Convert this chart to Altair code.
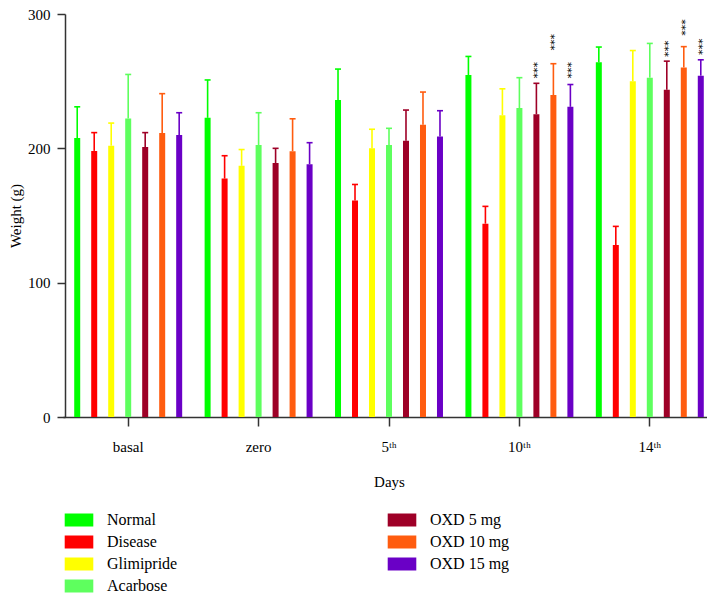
import altair as alt
import pandas as pd

days = ["basal", "zero", "5ᵗʰ", "10ᵗʰ", "14ᵗʰ"]
groups = ["Normal", "Disease", "Glimipride", "Acarbose", "OXD 5 mg", "OXD 10 mg", "OXD 15 mg"]
colors = ["#00FF00", "#FF0000", "#FFFF00", "#5EFF5E", "#9E0027", "#FF5C0F", "#6A00C6"]

means = {
    "Normal":     [207.6, 222.7, 236.0, 254.6, 264.0],
    "Disease":    [198.1, 177.5, 161.2, 143.9, 128.1],
    "Glimipride": [202.0, 187.0, 200.0, 224.7, 249.9],
    "Acarbose":   [222.2, 202.5, 202.5, 230.0, 252.6],
    "OXD 5 mg":   [201.0, 189.1, 205.7, 225.4, 243.6],
    "OXD 10 mg":  [211.5, 197.9, 217.6, 239.7, 260.2],
    "OXD 15 mg":  [210.0, 188.2, 208.8, 230.9, 254.1],
}
errors = {
    "Normal":     [23.3, 28.2, 23.0, 13.8, 11.4],
    "Disease":    [13.6, 17.0, 11.9, 12.9, 13.8],
    "Glimipride": [16.8, 12.1, 14.2, 19.6, 22.9],
    "Acarbose":   [32.8, 24.0, 12.4, 22.6, 25.5],
    "OXD 5 mg":   [10.7, 10.9, 22.8, 23.0, 21.3],
    "OXD 10 mg":  [29.2, 24.1, 24.3, 23.3, 15.5],
    "OXD 15 mg":  [16.5, 16.0, 19.2, 16.6, 11.8],
}

star_days = ["10ᵗʰ", "10ᵗʰ", "10ᵗʰ", "14ᵗʰ", "14ᵗʰ", "14ᵗʰ"]
star_groups = ["OXD 5 mg", "OXD 10 mg", "OXD 15 mg", "OXD 5 mg", "OXD 10 mg", "OXD 15 mg"]
star_levels = [251.9, 272.8, 251.9, 267.9, 283.9, 269.4]
star_labels = ["***"] * 6

rows = []
for g in groups:
    for i, d in enumerate(days):
        m = means[g][i]
        rows.append({"day": d, "group": g, "mean": m, "upper": m + errors[g][i]})
df = pd.DataFrame(rows)
stars_df = pd.DataFrame({"day": star_days, "group": star_groups,
                         "level": star_levels, "label": star_labels})

FONT = "Liberation Serif"

x_enc = alt.X(
    "day:N", sort=days,
    scale=alt.Scale(domain=days, paddingInner=0, paddingOuter=0, range=[0, 652]),
    axis=alt.Axis(title="Days", labelAngle=0, tickSize=9, labelPadding=13,
                  titlePadding=20, titleX=326),
)
xo_enc = alt.XOffset(
    "group:N", sort=groups,
    scale=alt.Scale(domain=groups, paddingInner=0.647, paddingOuter=0.66),
)
y_scale = alt.Scale(domain=[0, 300], nice=False)
y_axis = alt.Axis(title="Weight (g)", values=[0, 100, 200, 300], tickSize=8,
                  labelPadding=7, titlePadding=4, offset=-2)
color_scale = alt.Scale(domain=groups, range=colors)

rect_sym = "M-2.2,-1H2.2V1H-2.2Z"

def legend(values, lx):
    return alt.Legend(
        title=None, values=values, orient="none", legendX=lx, legendY=498,
        direction="vertical", padding=0, symbolType=rect_sym, symbolSize=169,
        symbolStrokeWidth=0, symbolOpacity=1, labelFont=FONT, labelFontSize=16,
        labelColor="#000000", labelOffset=20, rowPadding=6,
    )

base = alt.Chart(df).encode(x=x_enc, xOffset=xo_enc)

bars1 = base.transform_filter(
    alt.FieldOneOfPredicate(field="group", oneOf=groups[:4])
).mark_bar().encode(
    y=alt.Y("mean:Q", scale=y_scale, axis=y_axis),
    color=alt.Color("group:N", scale=color_scale, legend=legend(groups[:4], 8)),
)
bars2 = base.transform_filter(
    alt.FieldOneOfPredicate(field="group", oneOf=groups[4:])
).mark_bar().encode(
    y=alt.Y("mean:Q", scale=y_scale, axis=y_axis),
    color=alt.Color("group:N", scale=color_scale, legend=legend(groups[4:], 331)),
)
err = base.mark_rule(strokeWidth=1.6).encode(
    y=alt.Y("mean:Q", scale=y_scale, axis=y_axis),
    y2="upper:Q",
    color=alt.Color("group:N", scale=color_scale, legend=None),
)
caps = base.mark_tick(thickness=1.6, size=6, opacity=1).encode(
    y=alt.Y("upper:Q", scale=y_scale, axis=y_axis),
    color=alt.Color("group:N", scale=color_scale, legend=None),
)

stars = alt.Chart(stars_df).mark_text(
    angle=90, align="right", baseline="alphabetic",
    fontSize=11, font="DejaVu Sans", color="#000000", dy=6,
).encode(
    x=x_enc, xOffset=xo_enc,
    y=alt.Y("level:Q", scale=y_scale, axis=y_axis),
    text="label:N",
)

chart = alt.layer(bars1, bars2, err, caps, stars).resolve_legend(
    color="independent"
).properties(
    width=644, height=403,
    autosize=alt.AutoSizeParams(type="none"),
    padding={"left": 55, "top": 6, "right": 0, "bottom": 176},
).configure_view(stroke=None).configure_axis(
    grid=False, domainColor="#333333", domainWidth=1.5, tickColor="#333333",
    tickWidth=1.5, labelFont=FONT, labelFontSize=15, labelColor="#000000",
    titleFont=FONT, titleFontSize=15, titleFontWeight="normal", titleColor="#000000",
)

chart.save("out.html", embed_options={"renderer": "svg", "actions": False})
